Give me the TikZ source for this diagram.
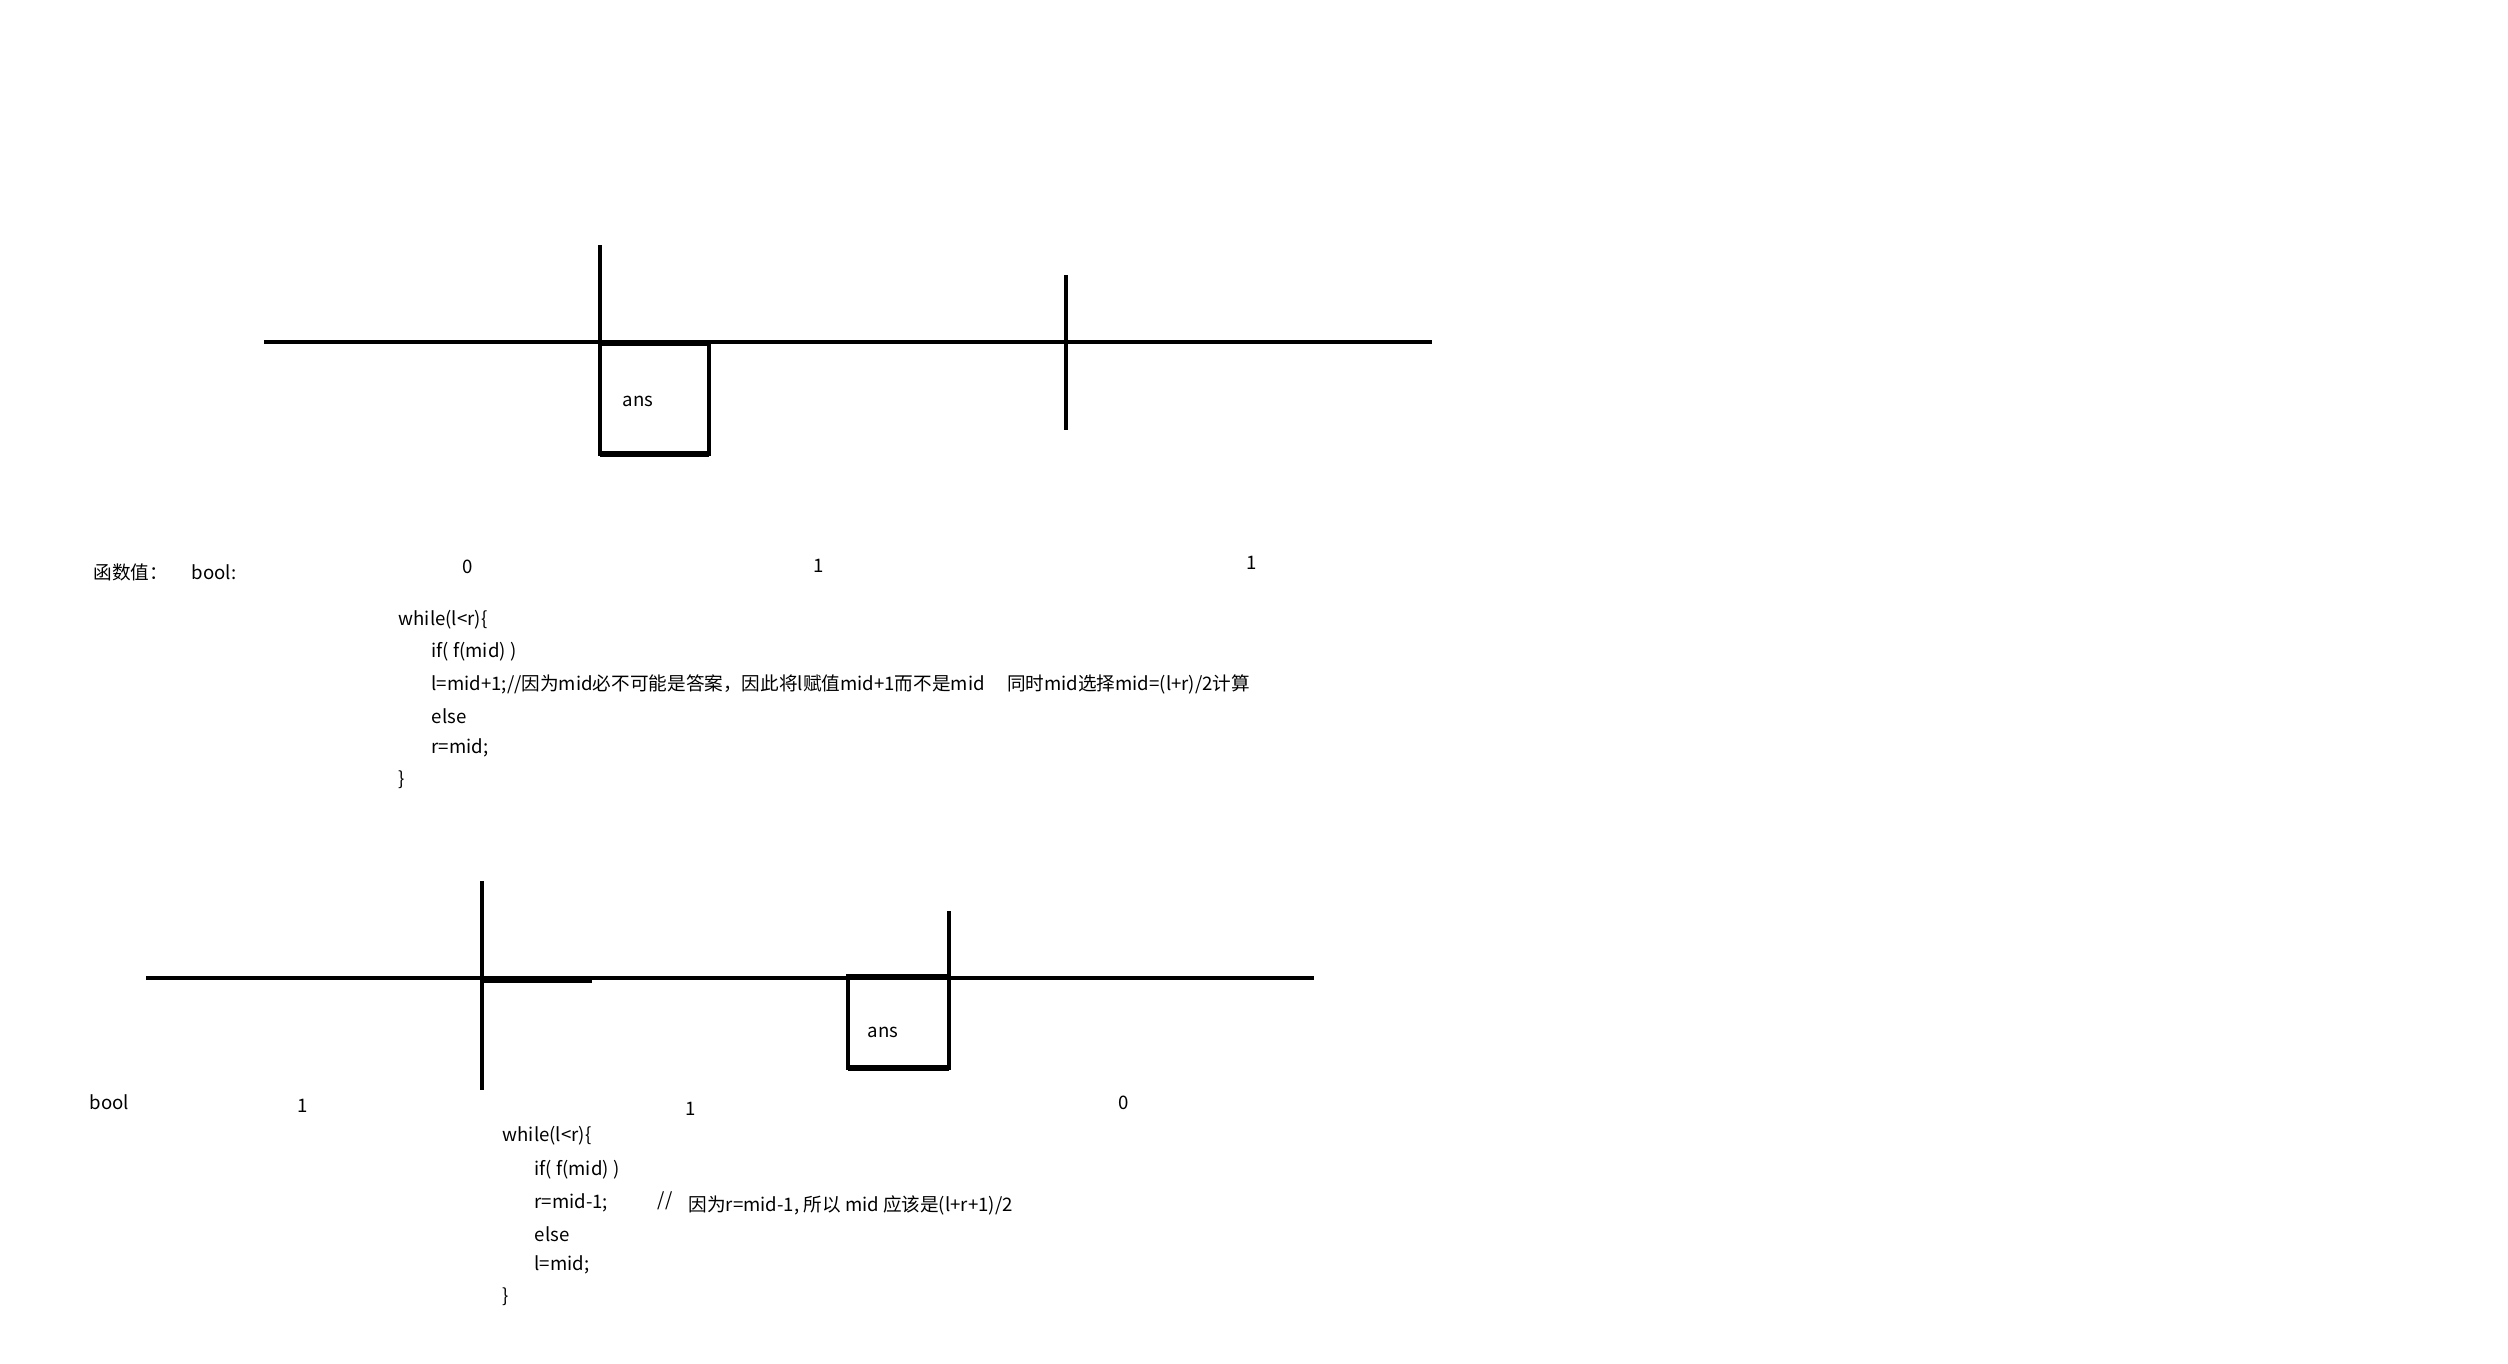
\documentclass[tikz,border=0pt]{standalone}
\usepackage{fontspec}
\usepackage{tikz}
\newfontfamily\cjk{Noto Sans CJK SC}
\tikzset{
  axis/.style={line width=1.35pt},
  tick/.style={line width=1.25pt},
  ansbox/.style={line width=1.2pt},
  boxfoot/.style={line width=1.6pt},
  code/.style={font=\cjk\fontsize{5.3}{6}\selectfont, inner sep=0pt, anchor=west},
  val/.style={code, anchor=center},
}
\newcommand{\codeblock}[2]{%
  \foreach \px/\py/\txt [count=\k] in {#2} {%
    \node[code] (#1\k) at (\px,\py) {\txt};
  }}
\newcommand{\vals}[2]{%
  \foreach \px/\py/\v [count=\k] in {#2} {%
    \node[val] (#1\k) at (\px,\py) {\v};
  }}

\begin{document}
\begin{tikzpicture}[x=0.1mm,y=-0.1mm]
  \useasboundingbox (0,0) rectangle (2508,1364);
  % upper number line
  \draw[axis] (264,342) -- (1432,342);
  \draw[tick] (600,245) -- (600,342);
  \draw[tick] (1066,275) -- (1066,430);
  \draw[ansbox] (600,344) rectangle (709,454);
  \draw[boxfoot] (600,454) -- (709,454);
  \node[val] (ansA) at (638,401) {ans};
  \node[code] (fnA) at (93,572) {函数值：};
  \node[code] (boolA) at (191,572) {bool:};
  \vals{vA}{468/567/0, 819/566/1, 1252/563/1}
  \codeblock{cA}{398/620/{while(l<r)\{},
    431/652/{if( f(mid) )},
    431/684/{l=mid+1;//因为mid必不可能是答案，因此将l赋值mid+1而不是mid\hspace{1.2em}同时mid选择mid=(l+r)/2计算},
    431/716/{else},
    431/748/{r=mid;},
    398/780/{\}}}
  % lower number line
  \draw[axis] (146,978) -- (1314,978);
  \draw[tick] (482,881) -- (482,1090);
  \draw[line width=1.7pt] (482,980) -- (592,980);
  \draw[tick] (949,911) -- (949,978);
  \draw[ansbox] (848,976) rectangle (949,1068);
  \draw[boxfoot] (848,1068) -- (949,1068);
  \node[val] (ansB) at (883,1032) {ans};
  \node[code] (boolB) at (89,1102) {bool};
  \vals{vB}{303/1106/1, 691/1109/1, 1124/1103/0}
  \codeblock{cB}{502/1136/{while(l<r)\{},
    534/1170/{if( f(mid) )},
    534/1203/{r=mid-1;},
    534/1234/{else},
    534/1265/{l=mid;},
    502/1297/{\}}}
  \node[code] (slash) at (657,1201) {//};
  \node[code] (noteB) at (688,1205) {因为r=mid-1, 所以 mid 应该是(l+r+1)/2};
\end{tikzpicture}
\end{document}
